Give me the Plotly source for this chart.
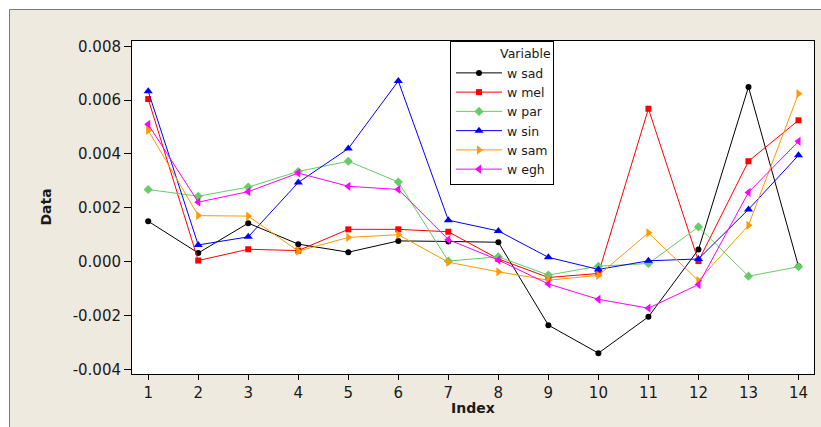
import plotly.graph_objects as go

index = list(range(1, 15))
w_sad = [0.0015, 0.00032, 0.00143, 0.00065, 0.00035, 0.00077, 0.00075, 0.00072, -0.00236, -0.0034, -0.00205, 0.00045, 0.00649, -0.00017]
w_mel = [0.00604, 0.00004, 0.00046, 0.00041, 0.0012, 0.0012, 0.00111, 0.0001, -0.00059, -0.00044, 0.00568, 0.00002, 0.00373, 0.00525]
w_par = [0.00268, 0.00243, 0.00277, 0.00335, 0.00373, 0.00296, 0.00002, 0.00018, -0.0005, -0.00017, -0.00007, 0.00129, -0.00054, -0.00019]
w_sin = [0.00633, 0.00062, 0.00092, 0.00294, 0.0042, 0.00671, 0.00154, 0.00114, 0.00016, -0.00029, 0.00003, 0.0001, 0.00194, 0.00395]
w_sam = [0.00488, 0.00171, 0.00169, 0.00039, 0.0009, 0.001, -0.00002, -0.00038, -0.00069, -0.00051, 0.00107, -0.00071, 0.00135, 0.00624]
w_egh = [0.0051, 0.00221, 0.0026, 0.00329, 0.0028, 0.00268, 0.00082, 0.00006, -0.00083, -0.0014, -0.00173, -0.00085, 0.00257, 0.00447]

series_names = ["w sad", "w mel", "w par", "w sin", "w sam", "w egh"]
series_values = [w_sad, w_mel, w_par, w_sin, w_sam, w_egh]
colors = ["#000000", "#FF0000", "#66CC66", "#0000FF", "#FF9900", "#FF00FF"]
symbols = ["circle", "square", "diamond", "triangle-up", "triangle-right", "triangle-left"]
sizes = [6, 6, 7, 8, 8, 8]

y_tickvals = [-0.004, -0.002, 0.0, 0.002, 0.004, 0.006, 0.008]
y_ticktext = ["-0.004", "-0.002", "0.000", "0.002", "0.004", "0.006", "0.008"]
x_tickvals = index

W, H = 821, 427
ML, MR, MT, MB = 132, 7, 41, 53
PW, PH = W - ML - MR, H - MT - MB

def px_x(p):
    return (p - ML) / PW

def px_y(p):
    return (H - MB - p) / PH

fig = go.Figure()
for name, vals, c, s, sz in zip(series_names, series_values, colors, symbols, sizes):
    fig.add_trace(go.Scatter(
        x=index, y=vals, name=name, mode="lines+markers",
        line=dict(color=c, width=1),
        marker=dict(color=c, symbol=s, size=sz, line=dict(width=0)),
    ))

font_family = "DejaVu Sans, Verdana, sans-serif"

fig.update_layout(
    width=W, height=H,
    margin=dict(l=ML, r=MR, t=MT, b=MB),
    paper_bgcolor="white",
    plot_bgcolor="white",
    font=dict(family=font_family, color="#1a1a1a"),
    showlegend=True,
    legend=dict(
        x=px_x(450), y=1.0, xanchor="left", yanchor="top",
        bgcolor="white", bordercolor="black", borderwidth=1,
        font=dict(size=12.5, color="#1a1a1a"),
        title=dict(text="Variable", side="top right", font=dict(size=12.5)),
        itemwidth=46,
        traceorder="normal",
    ),
    xaxis=dict(
        range=[0.676, 14.31], tickvals=x_tickvals,
        showgrid=False, zeroline=False,
        showline=True, linecolor="black", linewidth=1, mirror=True,
        ticks="outside", ticklen=5, tickcolor="black", tickwidth=1,
        tickfont=dict(size=15),
    ),
    yaxis=dict(
        range=[-0.004175, 0.008197], tickvals=y_tickvals, ticktext=y_ticktext,
        showgrid=False, zeroline=False,
        showline=True, linecolor="black", linewidth=1, mirror=True,
        ticks="outside", ticklen=7, tickcolor="black", tickwidth=1,
        tickfont=dict(size=15),
    ),
    shapes=[
        dict(type="rect", xref="paper", yref="paper", layer="below",
             x0=px_x(9.5), x1=px_x(840), y0=px_y(9.5), y1=px_y(450),
             fillcolor="#EEEAE0", line=dict(color="#7a7a7a", width=1)),
        dict(type="rect", xref="paper", yref="paper", layer="below",
             x0=0, x1=1, y0=0, y1=1, fillcolor="white", line=dict(width=0)),
    ],
    annotations=[
        dict(text="<b>Data</b>", xref="paper", yref="paper", x=px_x(45), y=0.5,
             textangle=-90, showarrow=False, font=dict(size=14, color="#1a1a1a"),
             xanchor="center", yanchor="middle"),
        dict(text="<b>Index</b>", xref="paper", yref="paper", x=0.5, y=px_y(408),
             showarrow=False, font=dict(size=14, color="#1a1a1a"),
             xanchor="center", yanchor="middle"),
    ],
)

fig.write_html("out.html")
